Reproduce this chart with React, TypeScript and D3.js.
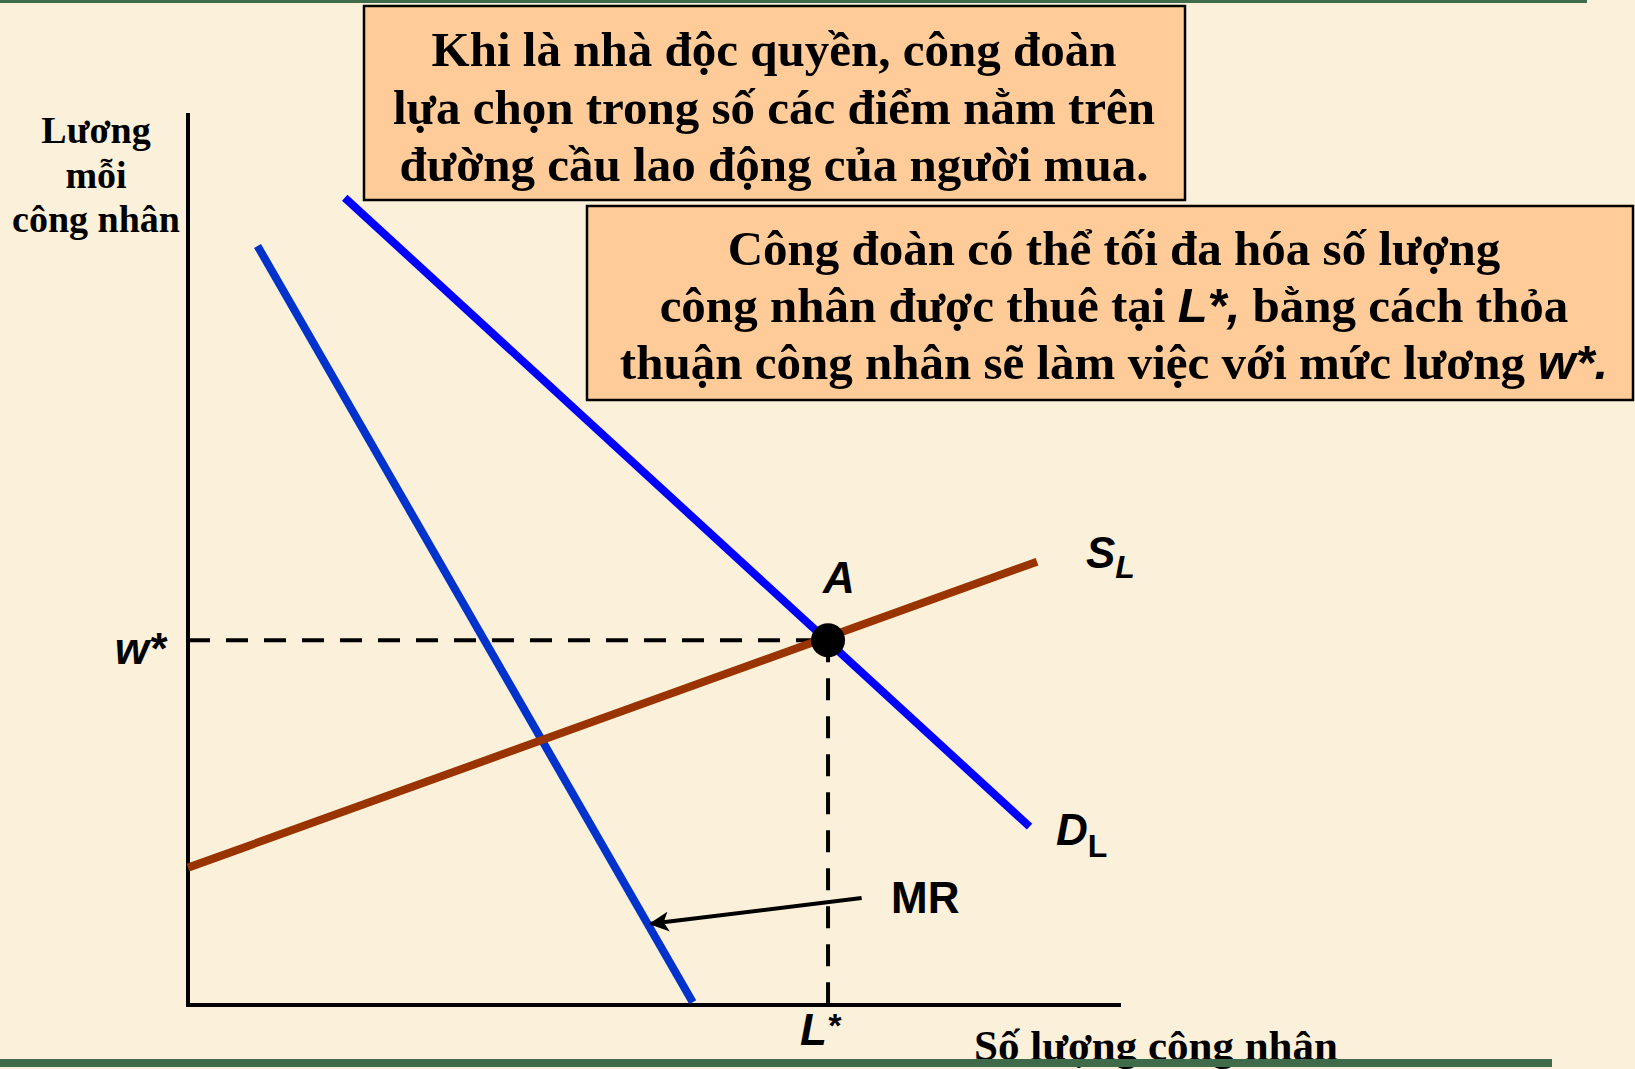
import React from 'react';
import * as d3 from 'd3';

// chart in "data" units: quantity of workers 0..100, wage 0..100
const W = 1635;
const H = 1069;

const demandLine = [[16.8, 90.5], [90.2, 20.0]];
const mrLine = [[7.45, 85.1], [54.1, 0.3]];
const supplyLine = [[0, 15.4], [91.0, 49.7]];
const equilibrium = { L: 68.6, w: 40.9 };
const mrArrow = [[72.2, 12.0], [49.6, 9.1]];

const yAxisTitle = ['Lương', 'mỗi', 'công nhân'];
const xAxisTitle = 'Số lượng công nhân';
const box1Lines = [
  'Khi là nhà độc quyền, công đoàn',
  'lựa chọn trong số các điểm nằm trên',
  'đường cầu lao động của người mua.',
];

const serif = '"Liberation Serif", "Times New Roman", serif';
const sans = '"Liberation Sans", Arial, sans-serif';

export default function App() {
  const x = d3.scaleLinear().domain([0, 100]).range([188, 1121]);
  const y = d3.scaleLinear().domain([0, 100]).range([1005, 113]);
  const line = d3.line<number[]>().x(d => x(d[0])).y(d => y(d[1]));

  const ax = x(equilibrium.L);
  const ay = y(equilibrium.w);

  return (
    <svg width={W} height={H} style={{ position: 'absolute', left: 0, top: 0 }}>
      <defs>
        <marker id="arr" viewBox="0 0 10 10" refX="9" refY="5" markerWidth="5" markerHeight="5"
          orient="auto" markerUnits="strokeWidth">
          <path d="M0,0 L10,5 L0,10 L2.5,5 Z" fill="#000" />
        </marker>
      </defs>
      <rect x={0} y={0} width={W} height={H} fill="#FBF0D9" />
      <rect x={0} y={0} width={1587} height={3} fill="#3F6B4A" />

      {/* axes */}
      <line x1={x(0)} y1={y(100)} x2={x(0)} y2={y(0) + 2} stroke="#000" strokeWidth={4} />
      <line x1={x(0) - 2} y1={y(0)} x2={x(100)} y2={y(0)} stroke="#000" strokeWidth={4} />

      {/* dashed guides */}
      <line x1={x(0)} y1={ay} x2={ax} y2={ay} stroke="#000" strokeWidth={4} strokeDasharray="22 16" />
      <line x1={ax} y1={ay} x2={ax} y2={y(0) + 10} stroke="#000" strokeWidth={4} strokeDasharray="22 16" />

      {/* curves */}
      <path d={line(mrLine) || ''} stroke="#0033CC" strokeWidth={8} fill="none" />
      <path d={line(supplyLine) || ''} stroke="#993300" strokeWidth={8} fill="none" />
      <path d={line(demandLine) || ''} stroke="#0000FF" strokeWidth={8} fill="none" />
      <circle cx={ax} cy={ay} r={17} fill="#000" />

      {/* MR pointer */}
      <path d={line(mrArrow) || ''} stroke="#000" strokeWidth={4} fill="none" markerEnd="url(#arr)" />

      {/* labels */}
      <g fontFamily={sans} fontWeight="bold" fontSize={44} fill="#000">
        <text x={823} y={593} fontStyle="italic">A</text>
        <text x={1086} y={568} fontStyle="italic">S<tspan fontSize={32} dy={10}>L</tspan></text>
        <text x={1056} y={845} fontStyle="italic">D<tspan fontSize={32} dy={12} fontStyle="normal">L</tspan></text>
        <text x={891} y={913}>MR</text>
        <text x={166} y={664} textAnchor="end" fontStyle="italic">w*</text>
        <text x={ax - 28} y={1045} fontStyle="italic">L<tspan fontSize={34} dy={-8}>*</tspan></text>
      </g>

      <g fontFamily={serif} fontWeight="bold" fontSize={38} fill="#000" textAnchor="middle">
        {yAxisTitle.map((t, i) => (
          <text key={i} x={96} y={143 + i * 44.5}>{t}</text>
        ))}
      </g>
      <text x={1156} y={1060} fontFamily={serif} fontWeight="bold" fontSize={43} textAnchor="middle">{xAxisTitle}</text>

      {/* text boxes */}
      <rect x={364} y={6} width={821} height={194} fill="#FFCC99" stroke="#000" strokeWidth={2.5} />
      <g fontFamily={serif} fontWeight="bold" fontSize={49} fill="#000" textAnchor="middle">
        {box1Lines.map((t, i) => (
          <text key={i} x={774} y={66 + i * 57.5}>{t}</text>
        ))}
      </g>

      <rect x={587} y={206} width={1046} height={194} fill="#FFCC99" stroke="#000" strokeWidth={2.5} />
      <g fontFamily={serif} fontWeight="bold" fontSize={49} fill="#000" textAnchor="middle">
        <text x={1114} y={265}>Công đoàn có thể tối đa hóa số lượng</text>
        <text x={1114} y={322}>công nhân được thuê tại <tspan fontFamily={sans} fontStyle="italic">L*,</tspan> bằng cách thỏa</text>
        <text x={1114} y={379}>thuận công nhân sẽ làm việc với mức lương <tspan fontFamily={sans} fontStyle="italic">w*.</tspan></text>
      </g>

      <rect x={0} y={1059} width={1552} height={8} fill="#3F6B4A" />
    </svg>
  );
}
